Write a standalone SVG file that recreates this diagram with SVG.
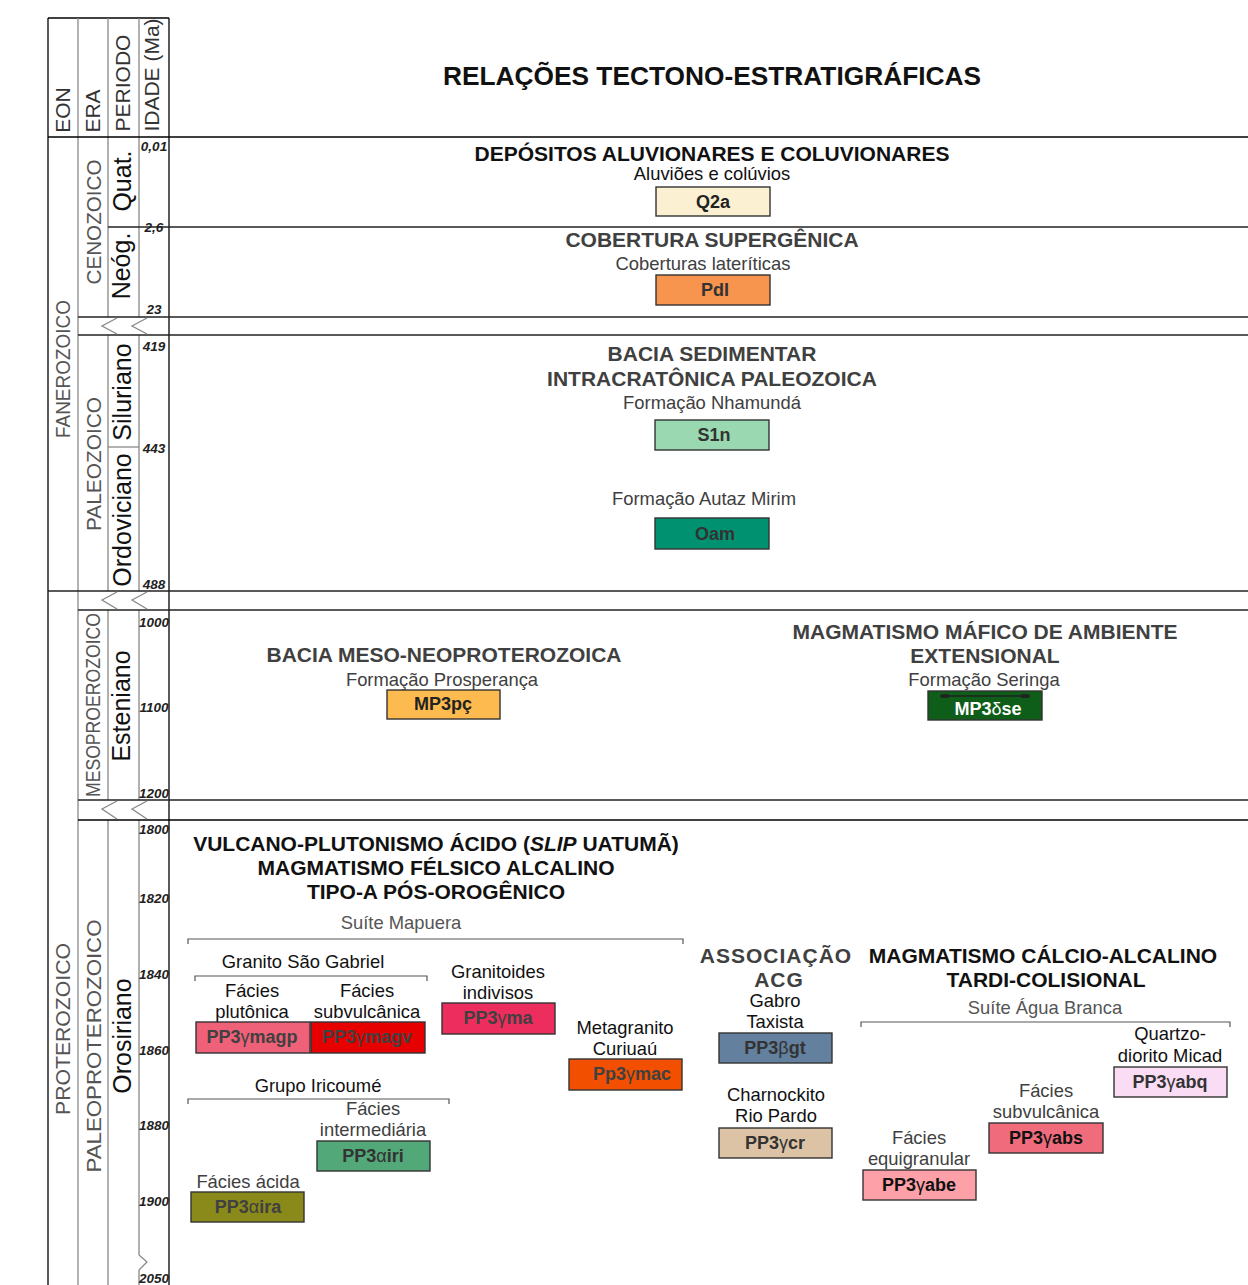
<svg xmlns="http://www.w3.org/2000/svg" width="1248" height="1285" viewBox="0 0 1248 1285">
<style>
text{font-family:"Liberation Sans",Arial,sans-serif}
.hd{font-size:21px;fill:#333}
.eon{font-size:20px;fill:#555}
.per{font-size:25px;fill:#111}
.age{font-size:13.5px;font-weight:bold;font-style:italic;fill:#222;text-anchor:middle}
.tt{font-size:26.3px;font-weight:bold;fill:#111;text-anchor:middle}
.st{font-size:21px;font-weight:bold;fill:#404040;text-anchor:middle}
.stk{font-size:21px;font-weight:bold;fill:#111;text-anchor:middle}
.sub{font-size:18.4px;fill:#404040;text-anchor:middle}
.subk{font-size:18.4px;fill:#111;text-anchor:middle}
.bx{stroke:#333;stroke-width:1.4}
.lb{font-size:18px;font-weight:bold;text-anchor:middle}
.gr{font-weight:normal}
.bk{stroke:#000;stroke-width:1.3;fill:none}
.gl{stroke:#888;stroke-width:1.3;fill:none}
.hl{stroke:#222;stroke-width:1.3;fill:none}
.br{stroke:#555;stroke-width:1.2;fill:none}
</style>

<g id="frame">
  <line class="bk" x1="48" y1="18" x2="169" y2="18"/>
  <line class="bk" x1="48" y1="18" x2="48" y2="1285"/>
  <line class="gl" x1="78" y1="18" x2="78" y2="1285"/>
  <path class="gl" d="M108 18V317M108 335V591M108 610V800M108 820V1285"/>
  <path class="gl" d="M139 18V317M139 335V591M139 610V800M139 820V1255M139 1270V1285"/>
  <line class="bk" x1="169" y1="18" x2="169" y2="1285"/>
  <line class="bk" x1="48" y1="137" x2="1248" y2="137"/>
  <line class="hl" x1="108" y1="227" x2="1248" y2="227"/>
  <line class="hl" x1="78" y1="317" x2="1248" y2="317"/>
  <line class="hl" x1="78" y1="335" x2="1248" y2="335"/>
  <line class="gl" x1="108" y1="447" x2="139" y2="447"/>
  <line class="hl" x1="48" y1="591" x2="1248" y2="591"/>
  <line class="hl" x1="78" y1="610" x2="1248" y2="610"/>
  <line class="hl" x1="78" y1="800" x2="1248" y2="800"/>
  <line class="bk" x1="78" y1="820" x2="1248" y2="820"/>
  <g class="gl">
    <path d="M117 318L102 326L117 334"/>
    <path d="M147 318L132 326L147 334"/>
    <path d="M117 592L102 600L117 609"/>
    <path d="M147 592L132 600L147 609"/>
    <path d="M117 801L102 809L117 819"/>
    <path d="M147 801L132 809L147 819"/>
    <path d="M139 1255L147 1262L139 1270"/>
  </g>
</g>

<g id="header">
  <text class="hd" transform="translate(70,110) rotate(-90)" text-anchor="middle">EON</text>
  <text class="hd" transform="translate(100,111) rotate(-90)" text-anchor="middle">ERA</text>
  <text class="hd" transform="translate(130,83) rotate(-90)" text-anchor="middle">PERIODO</text>
  <text class="hd" transform="translate(159,75) rotate(-90)" text-anchor="middle">IDADE (Ma)</text>
</g>

<g id="eons">
  <text class="eon" transform="translate(70,369) rotate(-90)" text-anchor="middle" textLength="138" lengthAdjust="spacingAndGlyphs">FANEROZOICO</text>
  <text class="eon" transform="translate(70,1029) rotate(-90)" text-anchor="middle" textLength="172" lengthAdjust="spacingAndGlyphs">PROTEROZOICO</text>
</g>
<g id="eras">
  <text class="eon" transform="translate(101,222) rotate(-90)" text-anchor="middle" textLength="125" lengthAdjust="spacingAndGlyphs">CENOZOICO</text>
  <text class="eon" transform="translate(101,464) rotate(-90)" text-anchor="middle" textLength="134" lengthAdjust="spacingAndGlyphs">PALEOZOICO</text>
  <text class="eon" transform="translate(100,705) rotate(-90)" text-anchor="middle" textLength="184" lengthAdjust="spacingAndGlyphs">MESOPROEROZOICO</text>
  <text class="eon" transform="translate(101,1046) rotate(-90)" text-anchor="middle" textLength="253" lengthAdjust="spacingAndGlyphs">PALEOPROTEROZOICO</text>
</g>
<g id="periods">
  <text class="per" transform="translate(131,181) rotate(-90)" text-anchor="middle">Quat.</text>
  <text class="per" transform="translate(130,266) rotate(-90)" text-anchor="middle">Neóg.</text>
  <text class="per" transform="translate(131,392) rotate(-90)" text-anchor="middle">Siluriano</text>
  <text class="per" transform="translate(131,520) rotate(-90)" text-anchor="middle">Ordoviciano</text>
  <text class="per" transform="translate(130,706) rotate(-90)" text-anchor="middle">Esteniano</text>
  <text class="per" transform="translate(131,1036) rotate(-90)" text-anchor="middle">Orosiriano</text>
</g>
<g id="ages">
  <text class="age" x="154" y="151">0,01</text>
  <text class="age" x="154" y="232">2,6</text>
  <text class="age" x="154" y="314">23</text>
  <text class="age" x="154" y="351">419</text>
  <text class="age" x="154" y="453">443</text>
  <text class="age" x="154" y="589">488</text>
  <text class="age" x="154" y="627">1000</text>
  <text class="age" x="154" y="712">1100</text>
  <text class="age" x="154" y="798">1200</text>
  <text class="age" x="154" y="834">1800</text>
  <text class="age" x="154" y="903">1820</text>
  <text class="age" x="154" y="979">1840</text>
  <text class="age" x="154" y="1055">1860</text>
  <text class="age" x="154" y="1130">1880</text>
  <text class="age" x="154" y="1206">1900</text>
  <text class="age" x="154" y="1283">2050</text>
</g>

<text class="tt" x="712" y="85">RELAÇÕES TECTONO-ESTRATIGRÁFICAS</text>

<g id="connectors">
  <path class="br" d="M188 944V939H683V944"/>
  <path class="br" d="M195 981V976H427V981"/>
  <path class="br" d="M188 1104V1099H449V1104"/>
  <path class="br" d="M861 1027V1022H1230V1027"/>
</g>

<g id="q2a">
  <text class="stk" x="712" y="161">DEPÓSITOS ALUVIONARES E COLUVIONARES</text>
  <text class="subk" x="712" y="180">Aluviões e colúvios</text>
  <rect class="bx" x="656" y="187" width="114" height="29" fill="#FBF1D2"/>
  <text class="lb" x="713" y="208" style="fill:#222">Q2a</text>
</g>
<g id="pdl">
  <text class="st" x="712" y="247">COBERTURA SUPERGÊNICA</text>
  <text class="sub" x="703" y="270">Coberturas lateríticas</text>
  <rect class="bx" x="656" y="275" width="114" height="30" fill="#F7944D"/>
  <text class="lb" x="715" y="296" style="fill:#333">PdI</text>
</g>
<g id="bacia-paleozoica">
  <text class="st" x="712" y="361">BACIA SEDIMENTAR</text>
  <text class="st" x="712" y="386">INTRACRATÔNICA PALEOZOICA</text>
</g>
<g id="s1n">
  <text class="sub" x="712" y="409">Formação Nhamundá</text>
  <rect class="bx" x="655" y="420" width="114" height="30" fill="#9AD8B1"/>
  <text class="lb" x="714" y="441" style="fill:#333">S1n</text>
</g>
<g id="oam">
  <text class="sub" x="704" y="505">Formação Autaz Mirim</text>
  <rect class="bx" x="655" y="518" width="114" height="31" fill="#009270"/>
  <text class="lb" x="715" y="540" style="fill:#333">Oam</text>
</g>
<g id="mp3pc">
  <text class="st" x="444" y="662">BACIA MESO-NEOPROTEROZOICA</text>
  <text class="sub" x="442" y="686">Formação Prosperança</text>
  <rect class="bx" x="387" y="690" width="113" height="29" fill="#FDBA4F"/>
  <text class="lb" x="443" y="710" style="fill:#222">MP3pç</text>
</g>
<g id="mp3dse">
  <text class="st" x="985" y="639">MAGMATISMO MÁFICO DE AMBIENTE</text>
  <text class="st" x="985" y="663">EXTENSIONAL</text>
  <text class="sub" x="984" y="686">Formação Seringa</text>
  <rect class="bx" x="928" y="691" width="114" height="29" fill="#0E5E1A"/>
  <line x1="945" y1="696" x2="1025" y2="696" stroke="#222" stroke-width="1.5"/>
  <ellipse cx="945" cy="696" rx="5" ry="2" fill="#222"/>
  <ellipse cx="1025" cy="696" rx="5" ry="2" fill="#222"/>
  <text class="lb" x="988" y="715" style="fill:#fff">MP3<tspan class="gr">δ</tspan>se</text>
</g>

<g id="uatuma">
  <text class="stk" x="436" y="851">VULCANO-PLUTONISMO ÁCIDO (<tspan font-style="italic">SLIP</tspan> UATUMÃ)</text>
  <text class="stk" x="436" y="875">MAGMATISMO FÉLSICO ALCALINO</text>
  <text class="stk" x="436" y="899">TIPO-A PÓS-OROGÊNICO</text>
  <text class="sub" x="401" y="929" style="fill:#555">Suíte Mapuera</text>
  <text class="subk" x="303" y="968">Granito São Gabriel</text>
  <text class="subk" x="318" y="1092">Grupo Iricoumé</text>
</g>
<g id="magp">
  <text class="subk" x="252" y="997">Fácies</text>
  <text class="subk" x="252" y="1018">plutônica</text>
  <rect class="bx" x="196" y="1022" width="114" height="31" fill="#EF6079"/>
  <text class="lb" x="252" y="1043" style="fill:#404040">PP3<tspan class="gr">γ</tspan>magp</text>
</g>
<g id="magv">
  <text class="subk" x="367" y="997">Fácies</text>
  <text class="subk" x="367" y="1018">subvulcânica</text>
  <rect class="bx" x="311" y="1022" width="114" height="31" fill="#E60000"/>
  <text class="lb" x="367" y="1043" style="fill:#404040">PP3<tspan class="gr">γ</tspan>magv</text>
</g>
<g id="ma">
  <text class="subk" x="498" y="978">Granitoides</text>
  <text class="subk" x="498" y="999">indivisos</text>
  <rect class="bx" x="442" y="1003" width="113" height="31" fill="#EC2D5D"/>
  <text class="lb" x="498" y="1024" style="fill:#404040">PP3<tspan class="gr">γ</tspan>ma</text>
</g>
<g id="mac">
  <text class="subk" x="625" y="1034">Metagranito</text>
  <text class="subk" x="625" y="1055">Curiuaú</text>
  <rect class="bx" x="569" y="1059" width="113" height="31" fill="#F25000"/>
  <text class="lb" x="632" y="1080" style="fill:#404040">Pp3<tspan class="gr">γ</tspan>mac</text>
</g>
<g id="iri">
  <text class="sub" x="373" y="1115">Fácies</text>
  <text class="sub" x="373" y="1136">intermediária</text>
  <rect class="bx" x="317" y="1141" width="113" height="30" fill="#52A878"/>
  <text class="lb" x="373" y="1162" style="fill:#333">PP3<tspan class="gr">α</tspan>iri</text>
</g>
<g id="ira">
  <text class="sub" x="248" y="1188">Fácies ácida</text>
  <rect class="bx" x="191" y="1192" width="113" height="30" fill="#8A8A1A"/>
  <text class="lb" x="248" y="1213" style="fill:#404040">PP3<tspan class="gr">α</tspan>ira</text>
</g>

<g id="acg">
  <text class="st" x="776" y="963" letter-spacing="1">ASSOCIAÇÃO</text>
  <text class="st" x="779" y="987" letter-spacing="1">ACG</text>
</g>
<g id="bgt">
  <text class="subk" x="775" y="1007">Gabro</text>
  <text class="subk" x="775" y="1028">Taxista</text>
  <rect class="bx" x="719" y="1033" width="113" height="30" fill="#63809E"/>
  <text class="lb" x="775" y="1054" style="fill:#333">PP3<tspan class="gr">β</tspan>gt</text>
</g>
<g id="cr">
  <text class="subk" x="776" y="1101">Charnockito</text>
  <text class="subk" x="776" y="1122">Rio Pardo</text>
  <rect class="bx" x="719" y="1128" width="113" height="30" fill="#DCC3A5"/>
  <text class="lb" x="775" y="1149" style="fill:#333">PP3<tspan class="gr">γ</tspan>cr</text>
</g>

<g id="agua-branca">
  <text class="stk" x="1043" y="963">MAGMATISMO CÁLCIO-ALCALINO</text>
  <text class="stk" x="1046" y="987">TARDI-COLISIONAL</text>
  <text class="sub" x="1045" y="1014" style="fill:#555">Suíte Água Branca</text>
</g>
<g id="abq">
  <text class="subk" x="1170" y="1040">Quartzo-</text>
  <text class="subk" x="1170" y="1062">diorito Micad</text>
  <rect class="bx" x="1114" y="1067" width="113" height="30" fill="#FADCF5"/>
  <text class="lb" x="1170" y="1088" style="fill:#333">PP3<tspan class="gr">γ</tspan>abq</text>
</g>
<g id="abs">
  <text class="sub" x="1046" y="1097">Fácies</text>
  <text class="sub" x="1046" y="1118">subvulcânica</text>
  <rect class="bx" x="989" y="1123" width="114" height="30" fill="#F06C7D"/>
  <text class="lb" x="1046" y="1144" style="fill:#111">PP3<tspan class="gr">γ</tspan>abs</text>
</g>
<g id="abe">
  <text class="sub" x="919" y="1144">Fácies</text>
  <text class="sub" x="919" y="1165">equigranular</text>
  <rect class="bx" x="863" y="1170" width="113" height="30" fill="#FDA0A8"/>
  <text class="lb" x="919" y="1191" style="fill:#111">PP3<tspan class="gr">γ</tspan>abe</text>
</g>
</svg>
